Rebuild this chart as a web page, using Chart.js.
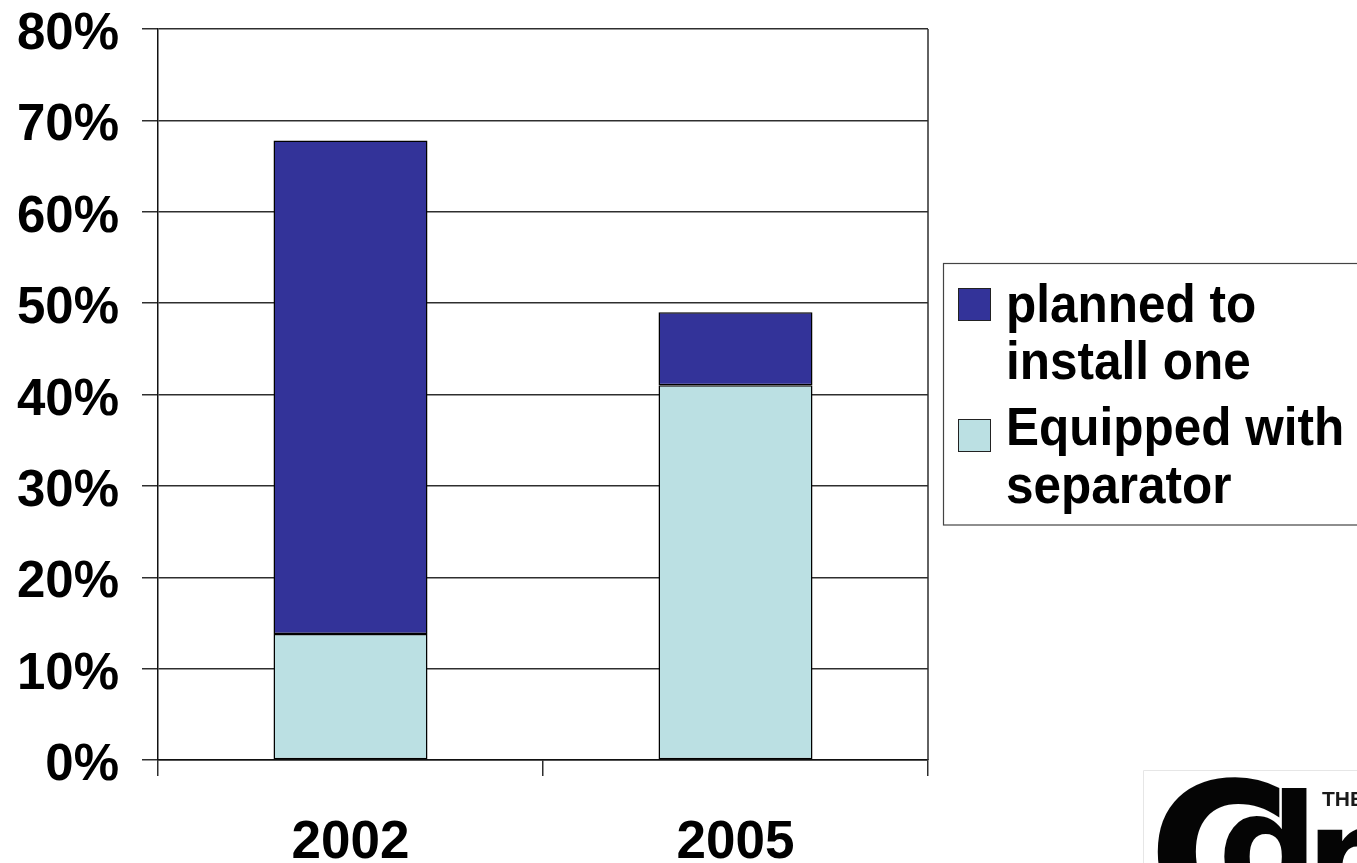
<!DOCTYPE html>
<html>
<head>
<meta charset="utf-8">
<script src="https://cdn.jsdelivr.net/npm/chart.js@4/dist/chart.umd.min.js"></script>
<style>
  html, body { margin: 0; padding: 0; background: #ffffff; }
  #wrap { width: 1357px; height: 863px; position: relative; }
</style>
</head>
<body>
<div id="wrap"><canvas id="chart" width="1357" height="863"></canvas></div>
<script>
// Survey years
const years = ['2002', '2005'];
// Share of respondents (%) already equipped with a separator
const equipped = [13.8, 41];
// Share of respondents (%) that planned to install one
const planned = [54, 8];
// Value axis range and step (%)
const yMax = 80;
const yStep = 10;
// Legend entries, top to bottom, each split over two lines
const legendPlanned = ['planned to', 'install one'];
const legendEquipped = ['Equipped with', 'separator'];

const NAVY = '#333399';
const AQUA = '#BBE0E3';
const FONT = '"Liberation Sans", Arial, Helvetica, sans-serif';
const LINE = '#2e2e2e';

// Bold value labels on the left axis
const yLabelPlugin = {
  id: 'yLabels',
  afterDraw(chart) {
    const ctx = chart.ctx;
    const ys = chart.scales.y;
    ctx.save();
    ctx.fillStyle = '#000';
    ctx.font = 'bold 51px ' + FONT;
    ctx.textAlign = 'right';
    ctx.textBaseline = 'alphabetic';
    ys.ticks.forEach((t, i) => {
      const py = ys.getPixelForTick(i);
      ctx.fillText(t.value + '%', 119, py + 20);
    });
    ctx.restore();
  }
};

// Category labels under the axis
const xLabelPlugin = {
  id: 'xLabels',
  afterDraw(chart) {
    const ctx = chart.ctx;
    const xs = chart.scales.x;
    ctx.save();
    ctx.fillStyle = '#000';
    ctx.font = 'bold 53px ' + FONT;
    ctx.textAlign = 'center';
    ctx.textBaseline = 'alphabetic';
    years.forEach((y, i) => {
      ctx.fillText(y, xs.getPixelForValue(i), 858);
    });
    ctx.restore();
  }
};

// Right-hand frame line of the plot area
const frameRight = {
  id: 'frameRight',
  beforeDatasetsDraw(chart) {
    const { ctx, chartArea } = chart;
    ctx.save();
    ctx.strokeStyle = LINE;
    ctx.lineWidth = 1.5;
    const x = Math.round(chartArea.right);
    ctx.beginPath();
    ctx.moveTo(x, chartArea.top);
    ctx.lineTo(x, chartArea.bottom);
    ctx.stroke();
    ctx.restore();
  }
};

// Boxed legend on the right with two-line entries
const boxLegend = {
  id: 'boxLegend',
  afterDraw(chart) {
    const ctx = chart.ctx;
    ctx.save();
    ctx.strokeStyle = '#444';
    ctx.lineWidth = 1.2;
    ctx.strokeRect(943.5, 263.5, 430, 261.5);

    const entries = [
      { color: NAVY, lines: legendPlanned, box: 288.5, base: [321.5, 379] },
      { color: AQUA, lines: legendEquipped, box: 419.5, base: [445, 503] }
    ];
    entries.forEach(e => {
      ctx.fillStyle = e.color;
      ctx.fillRect(958.5, e.box, 32, 32);
      ctx.strokeStyle = '#222';
      ctx.lineWidth = 1;
      ctx.strokeRect(958.5, e.box, 32, 32);
      ctx.fillStyle = '#000';
      ctx.font = 'bold 49.5px ' + FONT;
      ctx.textAlign = 'left';
      ctx.textBaseline = 'alphabetic';
      e.lines.forEach((txt, k) => {
        ctx.save();
        ctx.translate(1006, e.base[k]);
        ctx.scale(1, 1.07);
        ctx.fillText(txt, 0, 0);
        ctx.restore();
      });
    });
    ctx.restore();
  }
};

// Publisher mark in the lower right corner
const cornerMark = {
  id: 'cornerMark',
  afterDraw(chart) {
    const ctx = chart.ctx;
    ctx.save();
    ctx.strokeStyle = '#e6e6e6';
    ctx.lineWidth = 1;
    ctx.beginPath();
    ctx.moveTo(1143.5, 880);
    ctx.lineTo(1143.5, 770.5);
    ctx.lineTo(1360, 770.5);
    ctx.stroke();
    ctx.fillStyle = '#050505';
    ctx.textAlign = 'left';
    ctx.textBaseline = 'alphabetic';
    ctx.font = 'bold 196px "DejaVu Sans", sans-serif';
    ctx.fillText('C', 1148, 923);
    ctx.font = 'bold 140px "DejaVu Sans", sans-serif';
    ctx.fillText('d', 1218, 895);
    ctx.fillText('m', 1306, 907);
    ctx.fillStyle = '#1a1a1a';
    ctx.font = 'bold 21px ' + FONT;
    ctx.fillText('THE', 1322, 806);
    ctx.restore();
  }
};

new Chart(document.getElementById('chart'), {
  type: 'bar',
  data: {
    labels: years,
    datasets: [
      {
        label: legendEquipped.join(' '),
        data: equipped,
        backgroundColor: AQUA,
        borderColor: '#000',
        borderWidth: 1.5,
        borderSkipped: false
      },
      {
        label: legendPlanned.join(' '),
        data: planned,
        backgroundColor: NAVY,
        borderColor: '#000',
        borderWidth: 1.5,
        borderSkipped: false
      }
    ]
  },
  options: {
    responsive: false,
    animation: false,
    devicePixelRatio: 1,
    layout: { padding: { left: 0, right: 429, top: 29, bottom: 0 } },
    datasets: { bar: { categoryPercentage: 1, barPercentage: 0.4 } },
    plugins: {
      legend: { display: false },
      tooltip: { enabled: false },
      title: { display: false }
    },
    scales: {
      x: {
        stacked: true,
        offset: true,
        grid: {
          offset: true,
          drawOnChartArea: false,
          drawTicks: true,
          tickLength: 16,
          color: LINE,
          lineWidth: 1.5
        },
        border: { display: true, color: '#111', width: 1.5 },
        ticks: { color: 'rgba(0,0,0,0)', font: { size: 53, weight: 'bold' } },
        afterFit(scale) { scale.height = 103; }
      },
      y: {
        stacked: true,
        min: 0,
        max: yMax,
        ticks: {
          stepSize: yStep,
          color: 'rgba(0,0,0,0)',
          font: { size: 40, weight: 'bold' },
          callback: v => v + '%'
        },
        grid: {
          drawTicks: true,
          tickLength: 16,
          color: LINE,
          lineWidth: 1.5
        },
        border: { display: true, color: '#111', width: 1.5 },
        afterFit(scale) { scale.width = 158; }
      }
    }
  },
  plugins: [frameRight, yLabelPlugin, xLabelPlugin, boxLegend, cornerMark]
});
</script>
</body>
</html>
